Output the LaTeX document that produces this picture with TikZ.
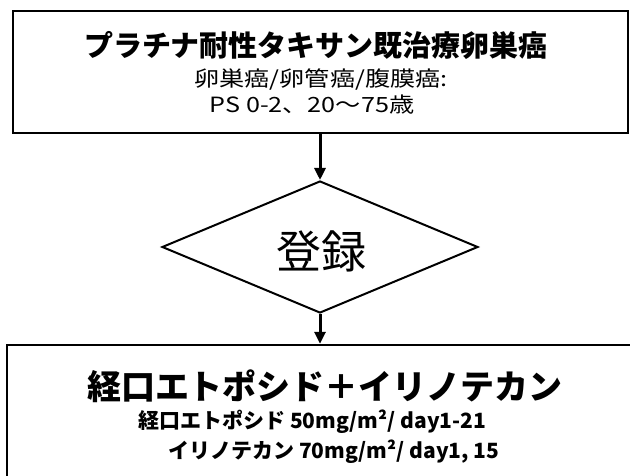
\documentclass[tikz,border=0pt]{standalone}
\usepackage{graphicx}
\usepackage{fontspec}
\setmainfont{Noto Sans CJK JP}
\usetikzlibrary{shapes.geometric,arrows.meta}
\begin{document}
\begin{tikzpicture}[x=1pt,y=-1pt,
  box/.style={draw, line width=2.4pt, rectangle, inner sep=0pt},
  dia/.style={draw, line width=2pt, diamond, aspect=2.4, inner sep=0pt,
    minimum width=316pt, minimum height=132pt},
  arr/.style={line width=3pt, -{Triangle[length=12pt,width=11pt]}},
  txt/.style={inner sep=0pt, text=black},
  sub/.style={txt, font=\fontsize{21}{21}\selectfont}
]
\useasboundingbox (0,0) rectangle (630,476);
\clip (0,0) rectangle (630,476);
\fill[white] (0,0) rectangle (630,476);
% top box
\node[box, minimum width=615pt, minimum height=122pt] (top) at (320.5,72) {};
\node[txt, font=\fontsize{29}{29}\selectfont\bfseries] (t1) at (316,45) {プラチナ耐性タキサン既治療卵巣癌};
\node[sub] (t2) at (321,80) {\scalebox{1.2}[1]{卵巣癌/卵管癌/腹膜癌:}};
\node[sub] (t3) at (312,105) {\scalebox{1.2}[1]{PS 0-2、20〜75歳}};
% diamond
\node[dia] (reg) at (320,247) {};
\node[txt, font=\fontsize{45}{45}\selectfont] (rt) at (321,251) {登録};
% bottom box
\node[box, minimum width=645pt, minimum height=170pt] (bot) at (329.5,430) {};
\node[txt, font=\fontsize{34}{34}\selectfont\bfseries] (b1) at (325,386) {経口エトポシド＋イリノテカン};
\node[txt, anchor=west, font=\fontsize{21}{21}\selectfont\bfseries] (b2) at (138,422) {経口エトポシド 50mg/m²/ day1-21};
\node[txt, anchor=west, font=\fontsize{21}{21}\selectfont\bfseries] (b3) at (168,452) {イリノテカン 70mg/m²/ day1, 15};
% arrows
\draw[arr] (top.south -| reg.north) -- (reg.north);
\draw[arr] (reg.south) -- (reg.south |- bot.north);
\end{tikzpicture}
\end{document}
